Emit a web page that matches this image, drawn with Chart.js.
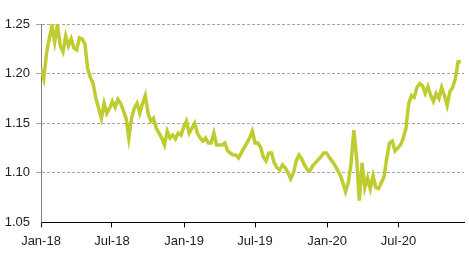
<!DOCTYPE html>
<html>
<head>
<meta charset="utf-8">
<script src="https://cdn.jsdelivr.net/npm/chart.js@4/dist/chart.umd.min.js"></script>
<style>
  html, body { margin: 0; padding: 0; background: #fff; }
  #wrap { width: 469px; height: 260px; position: relative; }
</style>
</head>
<body>
<div id="wrap"><canvas id="chart"></canvas></div>
<script>
// weekly closes, first value = first week of Jan 2018
var weeklyRate = [
    1.205, 1.195, 1.22, 1.235, 1.248, 1.232, 1.25, 1.228, 1.222, 1.238,
    1.228, 1.235, 1.226, 1.224, 1.236, 1.235, 1.23, 1.205, 1.196, 1.19,
    1.175, 1.165, 1.155, 1.17, 1.16, 1.165, 1.172, 1.166, 1.174, 1.17,
    1.163, 1.155, 1.135, 1.155, 1.165, 1.17, 1.16, 1.17, 1.178, 1.16,
    1.152, 1.155, 1.145, 1.14, 1.135, 1.128, 1.142, 1.135, 1.138, 1.134,
    1.14, 1.138, 1.146, 1.152, 1.14, 1.145, 1.15, 1.14, 1.135, 1.132,
    1.135, 1.13, 1.13, 1.14, 1.128, 1.128, 1.128, 1.13, 1.122, 1.12,
    1.118, 1.118, 1.115, 1.12, 1.125, 1.13, 1.135, 1.142, 1.13, 1.13,
    1.126, 1.116, 1.112, 1.12, 1.12, 1.11, 1.105, 1.103, 1.108, 1.105,
    1.1, 1.094, 1.1, 1.112, 1.118, 1.114, 1.108, 1.103, 1.102, 1.107,
    1.11, 1.113, 1.116, 1.12, 1.12, 1.116, 1.112, 1.108, 1.103, 1.098,
    1.09, 1.081, 1.09, 1.11, 1.143, 1.115, 1.072, 1.11, 1.085, 1.095,
    1.084, 1.097, 1.085, 1.084, 1.09, 1.096, 1.115, 1.13, 1.132, 1.122,
    1.125, 1.128, 1.135, 1.145, 1.17, 1.178, 1.176, 1.186, 1.19, 1.188,
    1.18, 1.187, 1.178, 1.172, 1.18, 1.175, 1.186, 1.178, 1.168, 1.182,
    1.186, 1.195, 1.212, 1.212
];

// x axis runs in days from 1 Jan 2018
var tickDays = [0, 181, 365, 546, 730, 912];
var tickLabels = ['Jan-18', 'Jul-18', 'Jan-19', 'Jul-19', 'Jan-20', 'Jul-20'];
var yTicks = [1.05, 1.10, 1.15, 1.20, 1.25];

var points = weeklyRate.map(function(v, i) {
    return { x: i * 7, y: v };
});

var font = { family: 'Liberation Sans, Arial, sans-serif', size: 13 };

new Chart(document.getElementById('chart'), {
    type: 'line',
    data: {
        datasets: [{
            data: points,
            borderColor: '#bfcc30',
            borderWidth: 3.5,
            pointRadius: 0,
            tension: 0,
            fill: false
        }]
    },
    options: {
        responsive: true,
        maintainAspectRatio: false,
        animation: false,
        layout: { padding: { left: 0, right: 5, top: 24, bottom: 5 } },
        plugins: { legend: { display: false }, tooltip: { enabled: false } },
        scales: {
            x: {
                type: 'linear',
                min: 0,
                max: 1079,
                afterBuildTicks: function(scale) {
                    scale.ticks = tickDays.map(function(d) { return { value: d }; });
                },
                ticks: {
                    color: '#222',
                    font: font,
                    padding: 6,
                    maxRotation: 0,
                    autoSkip: false,
                    callback: function(v) {
                        var i = tickDays.indexOf(v);
                        return i >= 0 ? tickLabels[i] : '';
                    }
                },
                grid: { drawOnChartArea: false, tickLength: 5, color: '#000' },
                border: { color: '#000', width: 1 }
            },
            y: {
                min: 1.05,
                max: 1.25,
                afterBuildTicks: function(scale) {
                    scale.ticks = yTicks.map(function(v) { return { value: v }; });
                },
                afterFit: function(scale) { scale.width = 41; },
                ticks: {
                    color: '#222',
                    font: font,
                    padding: 6,
                    callback: function(v) { return v.toFixed(2); }
                },
                grid: {
                    tickLength: 5,
                    color: function(ctx) {
                        return ctx.tick && Math.abs(ctx.tick.value - 1.05) < 1e-6 ? 'rgba(0,0,0,0)' : '#a6a6a6';
                    }
                },
                border: { color: '#7f7f7f', width: 1, dash: [3, 2] }
            }
        }
    }
});
</script>
</body>
</html>
